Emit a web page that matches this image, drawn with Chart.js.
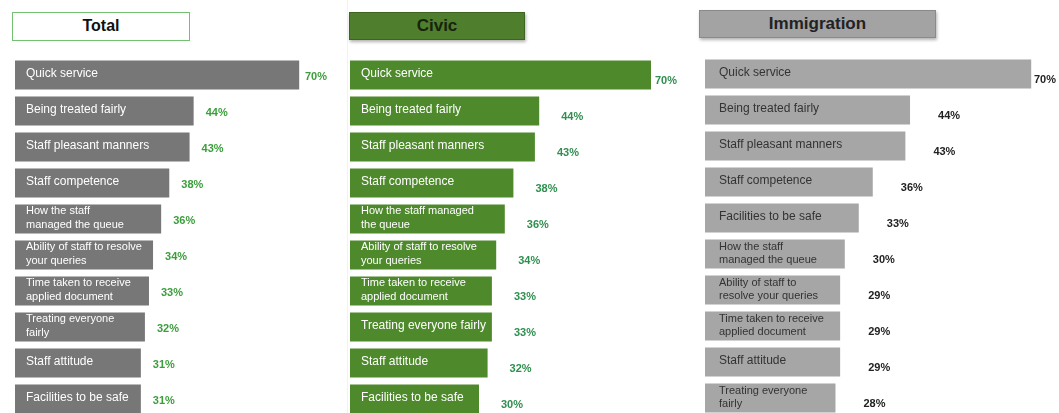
<!DOCTYPE html>
<html>
<head>
  <title>Satisfaction drivers</title>
  <script src="https://cdn.jsdelivr.net/npm/chart.js"></script>
  <style>
    body {
      margin: 0;
      background: #ffffff;
      font-family: "Liberation Sans", Arial, sans-serif;
      width: 1059px;
      height: 413px;
      overflow: hidden;
      position: relative;
    }
    .title {
      position: absolute;
      box-sizing: border-box;
      text-align: center;
      font-weight: bold;
    }
    #tTotal {
      left: 12px; top: 12px; width: 178px; height: 29px;
      border: 1.5px solid #72c272;
      font-size: 16px; line-height: 26px; color: #111;
    }
    #tCivic {
      left: 349px; top: 12px; width: 176px; height: 28px;
      background: #4f7f2c; border: 1px solid #3d6420;
      box-shadow: 1px 2px 3px rgba(0,0,0,0.3);
      font-size: 17px; line-height: 26px; color: #17240d;
    }
    #tImm {
      left: 699px; top: 10px; width: 237px; height: 28px;
      background: #a3a3a3; border: 1px solid #8a8a8a;
      box-shadow: 1px 2px 3px rgba(0,0,0,0.3);
      font-size: 17px; line-height: 26px; color: #222;
    }
    .box { position: absolute; top: 57px; height: 360px; }
    #bTotal { left: 15px; width: 315px; }
    #bCivic { left: 350px; width: 330px; }
    #bImm { left: 705px; width: 354px; top: 56px; }
    #sep { position: absolute; left: 347px; top: 0; width: 1px; height: 413px; background: #eef6ea; }
  </style>
</head>
<body>
  <div id="sep"></div>
  <div class="title" id="tTotal">Total</div>
  <div class="title" id="tCivic">Civic</div>
  <div class="title" id="tImm">Immigration</div>

  <div class="box" id="bTotal"><canvas id="cTotal"></canvas></div>
  <div class="box" id="bCivic"><canvas id="cCivic"></canvas></div>
  <div class="box" id="bImm"><canvas id="cImm"></canvas></div>

  <script>
    var totalLabels = [
      "Quick service", "Being treated fairly", "Staff pleasant manners", "Staff competence",
      ["How the staff", "managed the queue"], ["Ability of staff to resolve", "your queries"],
      ["Time taken to receive", "applied document"], ["Treating everyone", "fairly"],
      "Staff attitude", "Facilities to be safe"
    ];
    var totalValues = [70, 44, 43, 38, 36, 34, 33, 32, 31, 31];

    var civicLabels = [
      "Quick service", "Being treated fairly", "Staff pleasant manners", "Staff competence",
      ["How the staff managed", "the queue"], ["Ability of staff to resolve", "your queries"],
      ["Time taken to receive", "applied document"], "Treating everyone fairly",
      "Staff attitude", "Facilities to be safe"
    ];
    var civicValues = [70, 44, 43, 38, 36, 34, 33, 33, 32, 30];

    var immigrationLabels = [
      "Quick service", "Being treated fairly", "Staff pleasant manners", "Staff competence",
      "Facilities to be safe", ["How the staff", "managed the queue"],
      ["Ability of staff to", "resolve your queries"], ["Time taken to receive", "applied document"],
      "Staff attitude", ["Treating everyone", "fairly"]
    ];
    var immigrationValues = [70, 44, 43, 36, 33, 30, 29, 29, 29, 28];

    // writes the category inside each bar and the percentage after it
    var barText = {
      id: "barText",
      afterDatasetsDraw: function (chart, args, opts) {
        var ctx = chart.ctx;
        var meta = chart.getDatasetMeta(0);
        meta.data.forEach(function (bar, i) {
          var lab = chart.data.labels[i];
          var lines = Array.isArray(lab) ? lab : [lab];
          ctx.save();
          ctx.textBaseline = "middle";
          ctx.fillStyle = opts.textColor;
          ctx.font = (lines.length > 1 ? "11px" : "12px") + ' "Liberation Sans", Arial, sans-serif';
          lines.forEach(function (t, k) {
            var y = bar.y - 1 + (k - (lines.length - 1) / 2) * opts.lineHeight;
            ctx.fillText(t, bar.base + opts.pad, y);
          });

          var v = chart.data.datasets[0].data[i] + "%";
          ctx.font = 'bold 11px "Liberation Sans", Arial, sans-serif';
          ctx.fillStyle = opts.valueColor;
          var w = ctx.measureText(v).width;
          var x = Math.min(bar.x + opts.dx, chart.width - w - 3);
          ctx.fillText(v, x, bar.y + opts.dy);
          ctx.restore();
        });
      }
    };

    function makeChart(id, labels, values, color, max, textOpts) {
      return new Chart(document.getElementById(id), {
        type: "bar",
        data: {
          labels: labels,
          datasets: [{
            data: values,
            backgroundColor: color,
            borderWidth: 0,
            barPercentage: 0.8,
            categoryPercentage: 1.0
          }]
        },
        options: {
          indexAxis: "y",
          responsive: true,
          maintainAspectRatio: false,
          animation: false,
          layout: { padding: 0 },
          scales: {
            x: { display: false, min: 0, max: max },
            y: { display: false }
          },
          plugins: {
            legend: { display: false },
            tooltip: { enabled: false },
            barText: textOpts
          }
        },
        plugins: [barText]
      });
    }

    makeChart("cTotal", totalLabels, totalValues, "#777777", 315 / 4.06,
      { textColor: "#ffffff", valueColor: "#3a9e3a", pad: 11, lineHeight: 14, dx: 12, dy: 2 });
    makeChart("cCivic", civicLabels, civicValues, "#4e8a2c", 330 / 4.3,
      { textColor: "#ffffff", valueColor: "#2e8f4e", pad: 11, lineHeight: 14, dx: 22, dy: 6 });
    makeChart("cImm", immigrationLabels, immigrationValues, "#a6a6a6", 354 / 4.66,
      { textColor: "#333333", valueColor: "#222222", pad: 14, lineHeight: 13, dx: 28, dy: 6 });
  </script>
</body>
</html>
